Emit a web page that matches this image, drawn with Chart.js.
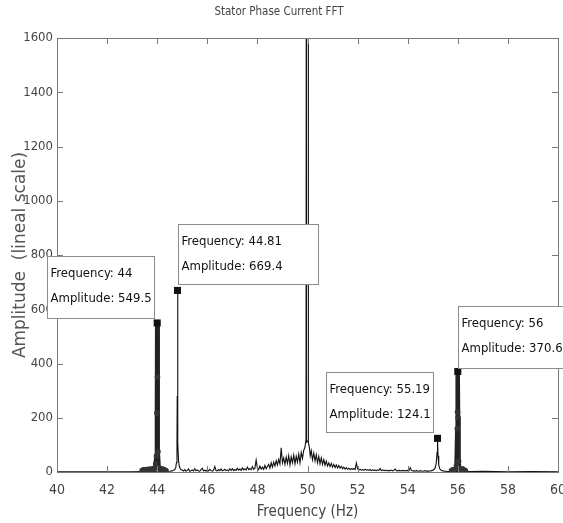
<!DOCTYPE html>
<html>
<head>
<meta charset="utf-8">
<script src="https://cdn.jsdelivr.net/npm/chart.js@4.4.1/dist/chart.umd.min.js"></script>
<style>
html,body{margin:0;padding:0;background:#fff;}
canvas{display:block;}
</style>
</head>
<body>
<canvas id="c" width="563" height="523"></canvas>
<script>
// ---- data ----
const xTicks = [40,42,44,46,48,50,52,54,56,58,60];
const yTicks = [0,200,400,600,800,1000,1200,1400,1600];

// thin spectrum line: frequency (Hz) and amplitude
const specFreq = [40,41,42,43,43.5,44.5,44.6,44.65,44.7,44.74,44.77,44.79,44.8,44.81,44.82,44.83,44.85,44.88,44.92,44.96,
45.00,45.05,45.10,45.15,45.20,45.25,45.30,45.35,45.40,45.45,45.50,45.55,45.60,45.65,45.70,45.75,45.80,45.85,45.90,45.95,
46.00,46.05,46.10,46.15,46.20,46.25,46.30,46.35,46.40,46.45,46.50,46.55,46.60,46.65,46.70,46.75,46.80,46.85,46.90,46.95,
47.00,47.05,47.10,47.15,47.20,47.25,47.30,47.35,47.40,47.45,47.50,47.55,47.60,47.65,47.70,47.75,47.80,47.85,47.90,47.95,
48.00,48.05,48.10,48.15,48.20,48.25,48.30,48.35,48.40,48.45,48.50,48.55,48.60,48.65,48.70,48.75,48.80,48.85,48.90,48.95,
49.00,49.05,49.10,49.15,49.20,49.25,49.30,49.35,49.40,49.45,49.50,49.55,49.60,49.65,49.70,49.75,49.80,49.85,49.90,49.94,
49.95,49.96,50.02,50.03,50.04,50.08,50.11,50.15,50.20,50.25,50.30,50.35,50.40,50.45,50.50,50.55,50.60,50.65,50.70,50.75,50.80,
50.85,50.90,50.95,51.00,51.05,51.10,51.15,51.20,51.25,51.30,51.35,51.40,51.45,51.50,51.55,51.60,51.65,51.70,51.75,51.80,
51.85,51.90,51.95,52.00,52.05,52.10,52.15,52.20,52.25,52.30,52.35,52.40,52.45,52.50,52.55,52.60,52.65,52.70,52.75,52.80,
52.85,52.90,52.95,53.00,53.05,53.10,53.15,53.20,53.25,53.30,53.35,53.40,53.45,53.50,53.55,53.60,53.65,53.70,53.75,53.80,
53.85,53.90,53.95,54.00,54.05,54.10,54.15,54.20,54.25,54.30,54.35,54.40,54.45,54.50,54.55,54.60,54.65,54.70,54.75,54.80,
54.85,54.90,54.95,55.00,55.05,55.10,55.14,55.17,55.19,55.21,55.24,55.28,55.32,55.40,55.50,
55.60,56.50,57.00,57.50,58.00,59.00,60.00];
const specAmp = [1,1,1,1,2,3,4,6,9,16,35,120,280,669.4,300,110,45,22,12,8,
7,4,9,3,6,11,3,5,8,4,12,5,8,4,3,9,14,4,7,3,
8,4,10,5,3,7,20,5,4,9,5,11,4,6,10,5,8,4,12,6,
12,5,9,6,14,7,11,6,15,8,12,7,18,9,13,8,20,10,14,44,
15,9,22,11,18,10,24,12,20,28,14,34,18,36,22,42,26,46,30,89,
34,52,28,55,32,60,26,56,34,62,30,58,36,66,34,72,50,80,92,120,
1800,110,115,1800,110,88,60,78,45,70,40,64,34,58,30,52,28,46,25,40,22,
34,20,32,18,28,16,26,15,24,14,21,12,18,11,16,10,14,9,12,10,
13,9,33,11,8,10,7,9,6,10,7,8,6,9,5,8,6,7,5,8,
6,13,5,7,6,5,7,4,6,5,7,4,6,11,5,4,6,5,4,6,
5,4,6,5,4,16,5,4,5,3,5,4,3,5,4,3,4,5,3,4,
3,4,5,6,9,16,32,72,124.1,60,25,12,7,4,3,
2,2,3,2,1,2,1];

// heavy marked sideband traces around 44 Hz and 56 Hz
const band44Freq = [43.4,43.45,43.5,43.55,43.6,43.65,43.7,43.75,43.8,43.85,43.9,43.94,43.97,43.99,44.0,44.01,44.03,44.06,44.1,44.15,44.2,44.25,44.3,44.35];
const band44Amp  = [5,8,6,9,7,10,8,11,9,12,14,30,59,217,549.5,350,75,14,9,12,7,10,6,5];
const band56Freq = [55.75,55.8,55.85,55.9,55.95,55.98,55.99,56.0,56.01,56.03,56.06,56.1,56.15,56.2,56.25,56.3];
const band56Amp  = [5,8,6,10,25,159,221,370.6,200,40,12,10,9,11,6,5];

// data tips
const tipFreq = [44, 44.81, 55.19, 56];
const tipAmp  = [549.5, 669.4, 124.1, 370.6];
const tipFreqText = ['44', '44.81', '55.19', '56'];
const tipAmpText  = ['549.5', '669.4', '124.1', '370.6'];

// ---- styling / layout ----
const FONT = "'Liberation Sans Narrow', 'DejaVu Sans Condensed', 'Roboto Condensed', sans-serif";
const tipBoxes = [ // box offset from the marker pixel, and size
  {dx:-110, dy:-67, w:107, h:62},
  {dx:1,    dy:-66, w:140, h:60},
  {dx:-112, dy:-66, w:107, h:60},
  {dx:0,    dy:-65, w:112, h:62}
];

const pts = (xs, ys) => xs.map((x, i) => ({x: x, y: ys[i]}));

const framePlugin = {
  id: 'frame',
  afterDraw(chart) {
    const {ctx, chartArea: a, scales: {x, y}} = chart;
    ctx.save();
    ctx.strokeStyle = '#7a7a7a';
    ctx.lineWidth = 1;
    ctx.beginPath();
    xTicks.forEach(v => {
      const px = Math.round(x.getPixelForValue(v)) + 0.5;
      ctx.moveTo(px, a.top); ctx.lineTo(px, a.top + 6);
      ctx.moveTo(px, a.bottom); ctx.lineTo(px, a.bottom - 6);
    });
    yTicks.forEach(v => {
      const py = Math.round(y.getPixelForValue(v)) + 0.5;
      ctx.moveTo(a.left, py); ctx.lineTo(a.left + 6, py);
      ctx.moveTo(a.right, py); ctx.lineTo(a.right - 6, py);
    });
    ctx.stroke();
    ctx.strokeRect(Math.round(a.left) + 0.5, Math.round(a.top) + 0.5, Math.round(a.right - a.left), Math.round(a.bottom - a.top));

    // data tip boxes
    ctx.font = '13px ' + FONT;
    ctx.textBaseline = 'middle';
    ctx.textAlign = 'left';
    tipFreq.forEach((f, i) => {
      const px = x.getPixelForValue(f);
      const py = y.getPixelForValue(tipAmp[i]);
      const b = tipBoxes[i];
      const bx = Math.round(px + b.dx) + 0.5, by = Math.round(py + b.dy) + 0.5;
      ctx.fillStyle = '#ffffff';
      ctx.fillRect(bx, by, b.w, b.h);
      ctx.strokeStyle = '#8c8c8c';
      ctx.strokeRect(bx, by, b.w, b.h);
      ctx.fillStyle = '#111111';
      ctx.fillText('Frequency: ' + tipFreqText[i], bx + 3, by + 17);
      ctx.fillText('Amplitude: ' + tipAmpText[i], bx + 3, by + 42);
    });
    ctx.restore();
  }
};

new Chart(document.getElementById('c'), {
  type: 'line',
  data: {
    datasets: [
      {
        label: 'tips', type: 'scatter', data: pts(tipFreq, tipAmp), order: 0,
        pointStyle: 'rect', pointRadius: 5, backgroundColor: '#111', borderColor: '#111', borderWidth: 0, showLine: false
      },
      {
        label: 'band44', data: pts(band44Freq, band44Amp), order: 1,
        borderColor: '#222', borderWidth: 4.5, pointRadius: 2.8, pointBackgroundColor: '#333', pointBorderWidth: 0, tension: 0
      },
      {
        label: 'band56', data: pts(band56Freq, band56Amp), order: 1,
        borderColor: '#222', borderWidth: 4.5, pointRadius: 2.8, pointBackgroundColor: '#333', pointBorderWidth: 0, tension: 0
      },
      {
        label: 'spectrum', data: pts(specFreq, specAmp), order: 2,
        borderColor: '#111', borderWidth: 1.1, pointRadius: 0, tension: 0
      }
    ]
  },
  options: {
    responsive: false,
    animation: false,
    layout: {padding: {left: 0, right: 5, top: 0, bottom: 0}},
    plugins: {
      legend: {display: false},
      tooltip: {enabled: false},
      title: {
        display: true, text: 'Stator Phase Current FFT', color: '#444',
        font: {family: FONT, size: 11.5, weight: 'normal'},
        padding: {top: 5, bottom: 19.2}
      }
    },
    scales: {
      x: {
        type: 'linear', min: 40, max: 60,
        afterFit(s) { s.height = 51; s.paddingLeft = 0; s.paddingRight = 0; },
        afterBuildTicks(s) { s.ticks = xTicks.map(v => ({value: v})); },
        grid: {display: false, drawTicks: false},
        border: {display: false},
        ticks: {color: '#444', padding: 10, font: {family: FONT, size: 14}, callback: v => String(v)},
        title: {display: true, text: 'Frequency (Hz)', color: '#444', font: {family: FONT, size: 15}, padding: {top: 0, bottom: 2}}
      },
      y: {
        type: 'linear', min: 0, max: 1600,
        afterFit(s) { s.width = 57; s.paddingTop = 0; s.paddingBottom = 0; },
        afterBuildTicks(s) { s.ticks = yTicks.map(v => ({value: v})); },
        grid: {display: false, drawTicks: false},
        border: {display: false},
        ticks: {color: '#444', padding: 4, font: {family: FONT, size: 13}, callback: v => String(v)},
        title: {display: true, text: 'Amplitude  (lineal scale)', color: '#555', font: {family: "'DejaVu Sans', sans-serif", size: 17}, padding: {top: 10, bottom: 0}}
      }
    }
  },
  plugins: [framePlugin]
});
</script>
</body>
</html>
